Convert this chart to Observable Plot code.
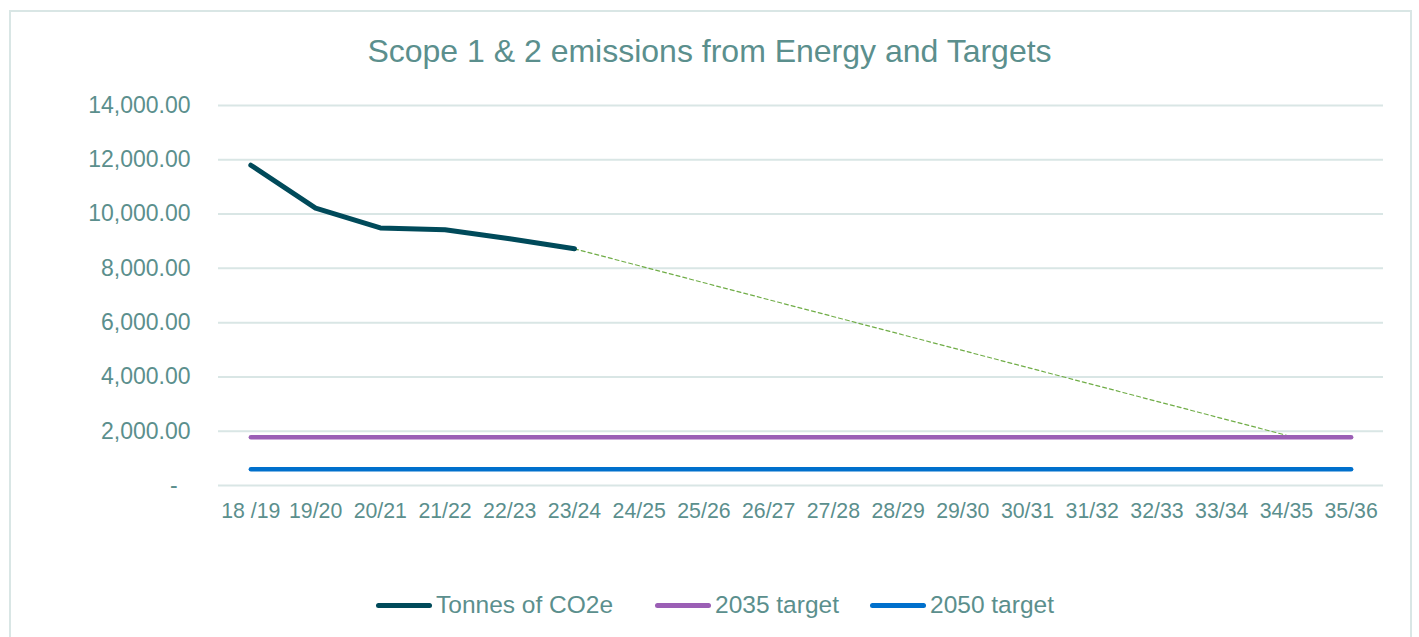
<!DOCTYPE html>
<html>
<head>
<meta charset="utf-8">
<script src="https://cdn.jsdelivr.net/npm/d3@7"></script>
<script src="https://cdn.jsdelivr.net/npm/@observablehq/plot@0.6"></script>
<style>
  html, body { margin: 0; padding: 0; background: #fff; }
  body { width: 1419px; height: 637px; position: relative; overflow: hidden; font-family: Arial, "Liberation Sans", sans-serif; }
  #frame { position: absolute; left: 9px; top: 10px; width: 1399px; height: 700px; border: 2px solid #d9e6e5; }
  #title { position: absolute; left: 0; width: 1419px; top: 35px; text-align: center; font-size: 32px; line-height: 32px; color: #5b8f8d; }
  #chart { position: absolute; left: 0; top: 80px; }
  .leg { position: absolute; top: 590px; height: 30px; display: flex; align-items: center; font-size: 24.5px; color: #5b8f8d; }
  .sw { width: 56px; height: 5px; border-radius: 3px; margin-right: 4px; }
</style>
</head>
<body>
<div id="frame"></div>
<div id="title">Scope 1 &amp; 2 emissions from Energy and Targets</div>
<div id="chart"></div>
<div class="leg" style="left:376px"><div class="sw" style="background:#004a5a"></div>Tonnes of CO2e</div>
<div class="leg" style="left:655px"><div class="sw" style="background:#9b5fb5"></div>2035 target</div>
<div class="leg" style="left:870px"><div class="sw" style="background:#0070cc"></div>2050 target</div>
<script>
const years = ["18 /19","19/20","20/21","21/22","22/23","23/24","24/25","25/26","26/27","27/28","28/29","29/30","30/31","31/32","32/33","33/34","34/35","35/36"];
const tonnes = [11800, 10220, 9490, 9420, 9090, 8720];
const target2035 = 1780;
const target2050 = 600;
const trendYears = ["23/24", "34/35"];
const trendValues = [8720, 1850];
const yTicks = [0, 2000, 4000, 6000, 8000, 10000, 12000, 14000];

const actual = tonnes.map((v, i) => ({year: years[i], value: v}));
const t35 = years.map(y => ({year: y, value: target2035}));
const t50 = years.map(y => ({year: y, value: target2050}));
const trend = trendYears.map((y, i) => ({year: y, value: trendValues[i]}));

const fmt = d => d === 0 ? "-\u2007" : d3.format(",.2f")(d);

const plot = Plot.plot({
  width: 1419,
  height: 470,
  marginLeft: 218,
  marginRight: 36,
  marginTop: 25,
  marginBottom: 65,
  style: {fontFamily: "Arial, 'Liberation Sans', sans-serif", color: "#5b8f8d", background: "transparent"},
  x: {type: "point", domain: years, padding: 0.5, round: false},
  y: {domain: [0, 14000]},
  marks: [
    Plot.gridY(yTicks, {stroke: "#d9e6e5", strokeOpacity: 1, strokeWidth: 2}),
    Plot.axisY(yTicks, {tickSize: 0, tickPadding: 28, tickFormat: fmt, fontSize: 23, fill: "#5b8f8d", label: null}),
    Plot.axisX(years, {tickSize: 0, tickPadding: 17, fontSize: 21.3, fill: "#5b8f8d", label: null}),
    Plot.line(trend, {x: "year", y: "value", stroke: "#70ad47", strokeWidth: 1.2, strokeDasharray: "4,3"}),
    Plot.line(t50, {x: "year", y: "value", stroke: "#0070cc", strokeWidth: 4.5, strokeLinecap: "round"}),
    Plot.line(t35, {x: "year", y: "value", stroke: "#9b5fb5", strokeWidth: 4.5, strokeLinecap: "round"}),
    Plot.line(actual, {x: "year", y: "value", stroke: "#004a5a", strokeWidth: 5, strokeLinecap: "round", strokeLinejoin: "round"})
  ]
});
document.getElementById("chart").appendChild(plot);
</script>
</body>
</html>
